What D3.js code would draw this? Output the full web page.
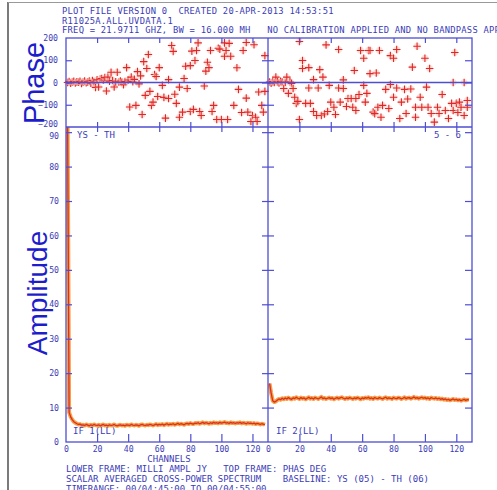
<!DOCTYPE html>
<html>
<head>
<meta charset="utf-8">
<script src="https://cdn.jsdelivr.net/npm/d3@7"></script>
<style>
  body { margin: 0; background: #fff; }
  svg { display: block; }
  .mono { font-family: "DejaVu Sans Mono", "Liberation Mono", monospace; font-size: 9px; fill: #3b3bb8; white-space: pre; }
  .tick text.mono { font-size: 8.2px; }
</style>
</head>
<body>
<div id="chart"></div>
<script>
// header / footer text
const headerLines = [
  "PLOT FILE VERSION 0  CREATED 20-APR-2013 14:53:51",
  "R11025A.ALL.UVDATA.1",
  "FREQ = 21.9711 GHZ, BW = 16.000 MH   NO CALIBRATION APPLIED AND NO BANDPASS APPL"
];
const footerLines = [
  "LOWER FRAME: MILLI AMPL JY   TOP FRAME: PHAS DEG",
  "SCALAR AVERAGED CROSS-POWER SPECTRUM    BASELINE: YS (05) - TH (06)",
  "TIMERANGE: 00/04:45:00 TO 00/04:55:00"
];

const chanTicks = [0, 20, 40, 60, 80, 100, 120];
const phaseTicks = [-200, -100, 0, 100, 200];
const ampTicks = [0, 10, 20, 30, 40, 50, 60, 70, 80, 90];

// amplitude (milli Jy), channels 1..128
const amp1 = [
  95, 8.6, 7.3, 6.5, 5.9, 5.6, 5.3, 5.1, 5.2, 4.9,
  5.0, 4.8, 5.1, 4.9, 4.7, 5.0, 4.8, 5.1, 4.9, 4.8,
  5.0, 4.7, 4.9, 5.1, 4.8, 4.9, 4.7, 5.0, 4.8, 4.9,
  5.1, 4.8, 4.7, 4.9, 5.0, 4.8, 4.9, 4.7, 5.0, 4.9,
  4.8, 5.1, 4.9, 4.8, 5.0, 4.9, 4.7, 5.0, 5.1, 4.9,
  4.8, 5.0, 4.9, 5.1, 5.0, 4.8, 5.0, 5.2, 4.9, 5.1,
  5.0, 5.2, 4.9, 5.1, 5.3, 5.0, 5.2, 5.1, 5.3, 5.0,
  5.2, 5.4, 5.1, 5.3, 5.2, 5.0, 5.3, 5.4, 5.2, 5.5,
  5.3, 5.2, 5.5, 5.4, 5.6, 5.3, 5.5, 5.7, 5.4, 5.6,
  5.5, 5.3, 5.6, 5.4, 5.7, 5.5, 5.6, 5.4, 5.7, 5.5,
  5.6, 5.8, 5.5, 5.6, 5.4, 5.7, 5.5, 5.6, 5.4, 5.6,
  5.5, 5.7, 5.4, 5.6, 5.5, 5.3, 5.6, 5.4, 5.5, 5.3,
  5.5, 5.2, 5.4, 5.3, 5.1, 5.3, 5.2, 5.0
];
const amp2 = [
  17.0, 14.2, 12.0, 11.6, 11.8, 12.2, 12.5, 12.3, 12.7, 12.4,
  12.8, 12.5, 12.9, 12.6, 12.4, 12.8, 12.6, 13.0, 12.7, 12.5,
  12.9, 12.6, 12.8, 12.4, 12.7, 13.0, 12.6, 12.8, 12.5, 12.9,
  12.7, 12.5, 12.8, 13.1, 12.6, 12.8, 12.5, 12.7, 12.9, 12.6,
  12.8, 12.4, 12.7, 12.9, 12.6, 12.8, 13.0, 12.7, 12.5, 12.8,
  12.6, 12.9, 12.7, 12.5, 12.8, 12.6, 12.9, 12.7, 12.4, 12.8,
  12.6, 12.9, 12.7, 13.0, 12.6, 12.8, 12.5, 12.9, 12.7, 12.6,
  12.9, 12.7, 12.5, 12.8, 13.0, 12.6, 12.8, 12.7, 12.5, 12.9,
  12.7, 12.6, 12.9, 12.8, 12.5, 12.7, 13.0, 12.6, 12.8, 12.9,
  12.6, 12.8, 13.1, 12.7, 12.9, 12.6, 12.8, 13.0, 12.7, 12.9,
  12.6, 12.8, 12.5, 12.9, 12.7, 12.6, 12.8, 12.5, 12.7, 12.4,
  12.6, 12.3, 12.5, 12.2, 12.4, 12.1, 12.3, 12.5, 12.2, 12.4,
  12.1, 12.3, 12.0, 12.2, 12.4, 12.1, 12.3, 12.2
];

// phase (deg) as [channel, phase]
const phase1 = [
  [1,0],[2,4],[3,-3],[4,2],[5,5],[6,-2],[7,3],[8,1],[9,5],[10,-4],
  [11,2],[12,6],[13,-1],[14,3],[15,6],[16,-3],[17,9],[18,2],[19,-22],[20,12],
  [21,-20],[22,15],[23,18],[24,11],[25,22],[26,-38],[27,25],[28,6],[29,46],[30,9],
  [31,-20],[32,3],[33,46],[34,2],[35,6],[36,1],[37,-10],[38,4],[39,67],[40,11],
  [41,-110],[42,24],[43,4],[44,14],[45,-103],[46,49],[47,-6],[48,30],[49,-144],[50,94],
  [51,-58],[52,63],[53,126],[54,-40],[55,-103],[56,-88],[57,36],[58,27],[59,-63],[60,67],
  [62,-13],[63,-67],[64,-160],[66,13],[66,-72],[68,166],[69,140],[70,-53],[71,-94],[73,-21],
  [73,-156],[75,-133],[76,18],[77,73],[78,-27],[80,76],[80,-130],[81,141],[82,-121],[83,99],
  [84,144],[85,178],[86,-130],[87,-148],[89,-16],[90,51],[91,91],[92,67],[93,144],[94,-130],
  [95,-103],[97,-166],[98,154],[99,150],[100,-166],[102,178],[102,118],[103,144],[104,-166],[105,176],
  [106,118],[108,-103],[110,66],[111,-31],[113,-135],[114,144],[116,180],[116,-70],[117,-133],[119,-175],
  [120,-148],[121,170],[122,-156],[123,-175],[124,-43],[126,-103],[127,-133],[128,121],[128,-40]
];
const phase2 = [
  [1,2],[2,-3],[3,4],[4,0],[5,24],[6,3],[7,-2],[8,5],[9,2],[10,-27],
  [11,1],[12,24],[13,-49],[14,3],[15,-4],[16,-27],[17,-66],[18,-94],[19,-85],[20,184],
  [20,-166],[22,99],[22,63],[24,-94],[26,67],[26,-25],[27,-94],[29,13],[29,-130],[31,-148],
  [32,-25],[33,58],[34,-148],[35,24],[36,-141],[37,169],[38,-130],[39,-13],[40,-88],[42,-111],
  [43,-144],[45,148],[45,-25],[46,-88],[48,12],[48,-27],[50,-108],[51,-72],[53,-72],[54,-111],
  [55,54],[56,-126],[56,-72],[58,-54],[59,144],[61,109],[61,-13],[62,-88],[63,-49],[64,144],
  [65,144],[65,40],[67,-133],[68,-140],[69,43],[70,-111],[71,144],[72,-156],[73,-103],[75,-31],
  [77,-117],[78,121],[78,-9],[80,109],[80,-66],[82,148],[82,-25],[84,-162],[85,-88],[87,-31],
  [88,-139],[89,-74],[91,-29],[92,69],[94,-156],[94,-111],[95,163],[97,-66],[98,-111],[100,109],
  [101,-21],[102,-111],[103,63],[104,-139],[106,-178],[108,-111],[109,-139],[111,-54],[113,-126],[115,-162],
  [117,-94],[118,0],[118,-126],[119,135],[120,-94],[121,-135],[122,-88],[123,-111],[125,0],[125,-148],
  [127,-81],[127,-111]
];

const W = 497, H = 490;
const frameBlue = "#4e4ed2";
const svg = d3.select("#chart").append("svg").attr("width", W).attr("height", H);
svg.append("rect").attr("width", W).attr("height", H).attr("fill", "#fff");

// picture border
svg.append("line").attr("x1", 8).attr("x2", 8).attr("y1", 2).attr("y2", H).attr("stroke", "#222").attr("stroke-width", 1.2);
svg.append("line").attr("x1", 8).attr("x2", W).attr("y1", 2.5).attr("y2", 2.5).attr("stroke", "#999").attr("stroke-width", 1);

const left = 66, mid = 268, right = 472;
const phTop = 38, split = 127, ampBot = 442;

const x1 = d3.scaleLinear().domain([0, 130]).range([left, mid]);
const x2 = d3.scaleLinear().domain([0, 130]).range([mid, right]);
const yPh = d3.scaleLinear().domain([-200, 200]).range([split, phTop]);
const yAmp = d3.scaleLinear().domain([0, 91.5]).range([ampBot, split]);

// clip paths
const defs = svg.append("defs");
defs.append("clipPath").attr("id", "clipA1").append("rect").attr("x", left).attr("y", split).attr("width", mid - left).attr("height", ampBot - split);
defs.append("clipPath").attr("id", "clipA2").append("rect").attr("x", mid).attr("y", split).attr("width", right - mid).attr("height", ampBot - split);

// amplitude traces
const panels = [
  {x: x1, amp: amp1, ph: phase1, clip: "clipA1"},
  {x: x2, amp: amp2, ph: phase2, clip: "clipA2"}
];
panels.forEach(p => {
  const line = d3.line().x((d, i) => p.x(i + 1)).y(d => yAmp(d));
  const g = svg.append("g").attr("clip-path", `url(#${p.clip})`);
  g.append("path").datum(p.amp).attr("d", line).attr("fill", "none")
    .attr("stroke", "#f5a14a").attr("stroke-width", 4).attr("stroke-linejoin", "round");
  g.append("path").datum(p.amp).attr("d", line).attr("fill", "none")
    .attr("stroke", "#d9301f").attr("stroke-width", 1.3).attr("stroke-linejoin", "round");
});

// phase markers
panels.forEach(p => {
  const g = svg.append("g");
  const pts = g.selectAll("g.pt").data(p.ph).enter().append("g")
    .attr("transform", d => `translate(${p.x(d[0])},${yPh(d[1])})`);
  pts.append("circle").attr("r", 3.4).attr("fill", "#f9c9b8").attr("opacity", 0.55);
  pts.append("path").attr("d", "M-3.8,0H3.8M0,-3.8V3.8")
    .attr("stroke", "#e0262a").attr("stroke-width", 1.1);
});

// frames
const frame = svg.append("g").attr("stroke", frameBlue).attr("fill", "none").attr("stroke-width", 1.3);
frame.append("rect").attr("x", left).attr("y", phTop).attr("width", right - left).attr("height", ampBot - phTop);
frame.append("line").attr("x1", left).attr("x2", right).attr("y1", split).attr("y2", split);
frame.append("line").attr("x1", mid).attr("x2", mid).attr("y1", phTop).attr("y2", ampBot);
frame.append("line").attr("x1", left).attr("x2", right).attr("y1", yPh(0)).attr("y2", yPh(0));

// channel ticks
const innerTicks = chanTicks.filter(t => t > 0);
[x1, x2].forEach(x => {
  svg.append("g").attr("transform", `translate(0,${phTop})`)
    .call(d3.axisBottom(x).tickValues(innerTicks).tickSize(5).tickFormat(""));
  svg.append("g").attr("transform", `translate(0,${split - 5})`)
    .call(d3.axisBottom(x).tickValues(innerTicks).tickSize(10).tickFormat(""));
  svg.append("g").attr("transform", `translate(0,${ampBot})`)
    .call(d3.axisTop(x).tickValues(innerTicks).tickSize(8).tickFormat(""));
  svg.append("g").attr("transform", `translate(0,${ampBot})`)
    .call(d3.axisBottom(x).tickValues(chanTicks).tickSize(0).tickPadding(4));
});

// vertical ticks
function vTicks(scale, vals) {
  svg.append("g").attr("transform", `translate(${left},0)`)
    .call(d3.axisRight(scale).tickValues(vals).tickSize(6).tickFormat(""));
  svg.append("g").attr("transform", `translate(${mid - 6},0)`)
    .call(d3.axisRight(scale).tickValues(vals).tickSize(12).tickFormat(""));
  svg.append("g").attr("transform", `translate(${right},0)`)
    .call(d3.axisLeft(scale).tickValues(vals).tickSize(7).tickFormat(""));
}
vTicks(yPh, [-100, 0, 100]);
vTicks(yAmp, ampTicks.filter(t => t > 0));

const phAxis = svg.append("g").attr("transform", `translate(${left},0)`)
  .call(d3.axisLeft(yPh).tickValues(phaseTicks).tickSize(0).tickPadding(8));
const ampAxis = svg.append("g").attr("transform", `translate(${left},0)`)
  .call(d3.axisLeft(yAmp).tickValues(ampTicks).tickSize(0).tickPadding(7));
// the -200 and 90 labels sit on top of each other in the original; pull them apart a bit
phAxis.selectAll(".tick text").filter(d => d === -200).attr("dy", "-0.05em");
ampAxis.selectAll(".tick text").filter(d => d === 90).attr("dy", "0.75em");

// axis styling
svg.selectAll(".domain").remove();
svg.selectAll(".tick line").attr("stroke", frameBlue).attr("stroke-width", 1.2);
svg.selectAll(".tick text").attr("class", "mono").attr("font-family", null).attr("font-size", null).attr("fill", null);

// text
const txt = (x, y, s, anchor, size) => svg.append("text").attr("class", "mono")
  .attr("x", x).attr("y", y).attr("text-anchor", anchor || "start")
  .style("font-size", size ? size + "px" : null).text(s);
headerLines.forEach((s, i) => txt(62, 14 + i * 9.6, s, "start", 8.8).style("letter-spacing", "0.25px"));
footerLines.forEach((s, i) => txt(66, 471.5 + i * 10, s));
txt(169, 462, "CHANNELS", "middle");
txt(77, 138, "YS - TH");
txt(461, 138, "5 - 6", "end");
txt(73, 434, "IF 1(LL)");
txt(276, 434, "IF 2(LL)");

// big axis titles
svg.append("text").attr("transform", `translate(44,83) rotate(-90)`)
  .attr("text-anchor", "middle").attr("font-family", "Liberation Sans, Arial, sans-serif")
  .attr("font-size", 29).attr("fill", "#1d1dcc").text("Phase");
svg.append("text").attr("transform", `translate(47,293) rotate(-90)`)
  .attr("text-anchor", "middle").attr("font-family", "Liberation Sans, Arial, sans-serif")
  .attr("font-size", 28).attr("fill", "#1d1dcc").text("Amplitude");
</script>
</body>
</html>
